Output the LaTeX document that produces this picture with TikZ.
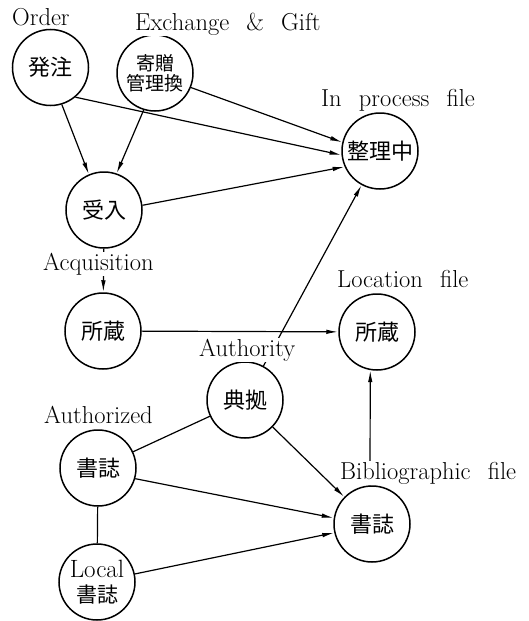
\documentclass[tikz,border=0pt]{standalone}
\usepackage{fontspec}
\newfontfamily\cjk{Noto Sans CJK JP}
\usetikzlibrary{arrows.meta}
\newcommand{\wsp}{\hspace{0.7em}}
\begin{document}
\begin{tikzpicture}[x=1pt,y=-1pt,
  circ/.style={circle,draw,line width=1.5pt,minimum size=76pt,inner sep=0pt,font=\cjk\fontsize{22}{24}\selectfont},
  lbl/.style={anchor=base west,inner sep=1pt,fill=white,font=\fontsize{24.5}{27}\selectfont},
  conn/.style={line width=1.2pt},
  arr/.style={conn,-{Latex[length=12pt,width=4.5pt]}}]
\useasboundingbox (0,0) rectangle (528,621);
% circles
\node[circ] (order) at (50.5,67.5) {発注};
\node[circ,align=center,font=\cjk\fontsize{19}{20}\selectfont] (gift) at (155,73) {寄贈\\管理換};
\node[circ] (proc) at (380,151) {整理中};
\node[circ] (recv) at (104,210) {受入};
\node[circ] (holdL) at (103,331) {所蔵};
\node[circ] (loc) at (377,332) {所蔵};
\node[circ] (auth) at (245,400) {典拠};
\node[circ] (authbib) at (98,468) {書誌};
\node[circ] (bib) at (372,524) {書誌};
\node[circ,align=center,font=\fontsize{25}{25}\selectfont] (local) at (97,582) {Local\\{\cjk\fontsize{21}{25}\selectfont 書誌}};
% connectors
\draw[arr] (order.-73) -- (recv.113);
\draw[arr] (gift.-107) -- (recv.71);
\draw[arr] (order.-50) -- (proc.186);
\draw[arr] (gift.-22) -- (proc.167);
\draw[arr] (recv.7) -- (proc.204);
\draw[arr] (recv) -- (holdL);
\draw[arr] (holdL) -- (loc);
\draw[arr] (auth) -- (proc);
\draw[conn] (auth) -- (authbib);
\draw[arr] (auth) -- (bib);
\draw[arr] (authbib.-16) -- (bib.171);
\draw[conn] (authbib) -- (local);
\draw[arr] (local.12) -- (bib.193);
\draw[arr] (bib.93) -- (loc.-100);
% labels
\node[lbl] (lOrder) at (11,25) {Order};
\node[lbl] (lGift) at (134,30) {Exchange\wsp\&\wsp Gift};
\node[lbl] (lProc) at (320,106) {In\wsp process\wsp file};
\node[lbl] (lAcq) at (42,270) {Acquisition};
\node[lbl] (lLoc) at (336,287) {Location\wsp file};
\node[lbl] (lAuth) at (198,356) {Authority};
\node[lbl] (lAuthz) at (43,423) {Authorized};
\node[lbl] (lBib) at (339,479) {Bibliographic\wsp file};
\end{tikzpicture}
\end{document}
